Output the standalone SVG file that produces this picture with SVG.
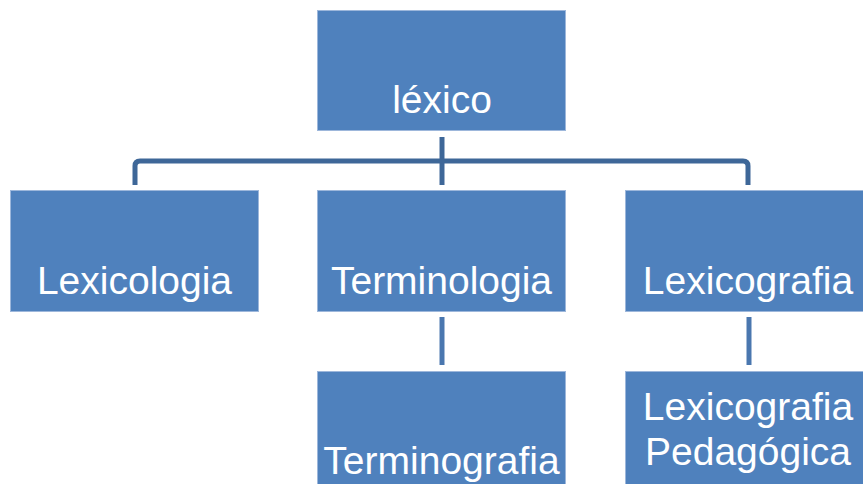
<svg xmlns="http://www.w3.org/2000/svg" width="863" height="484" viewBox="0 0 863 484">
<style>
.box{fill:#4F81BD;stroke:#9DB7DB;stroke-width:1}
.t{font-family:"Liberation Sans",Arial,sans-serif;font-size:39px;fill:#FFFFFF;text-anchor:middle}
.c1{fill:none;stroke:#3E6798;stroke-width:5}
.c2{fill:none;stroke:#4A77AF;stroke-width:5}
</style>
<rect width="863" height="484" fill="#FFFFFF"/>
<g id="connectors">
<path class="c1" d="M442 137 V185"/>
<path class="c1" d="M135 185 V166 Q135 161 140 161 H743 Q748 161 748 166 V185"/>
<path class="c2" d="M442 317 V365"/>
<path class="c2" d="M749 317 V365"/>
</g>
<g id="lexico"><rect class="box" x="317.5" y="10.5" width="248" height="120"/><text class="t" x="442" y="113">léxico</text></g>
<g id="lexicologia"><rect class="box" x="10.5" y="190.5" width="248" height="121"/><text class="t" x="134.5" y="294">Lexicologia</text></g>
<g id="terminologia"><rect class="box" x="317.5" y="190.5" width="248" height="121"/><text class="t" x="441.5" y="294">Terminologia</text></g>
<g id="lexicografia"><rect class="box" x="625.5" y="190.5" width="248" height="121"/><text class="t" x="748" y="294">Lexicografia</text></g>
<g id="terminografia"><rect class="box" x="317.5" y="371.5" width="248" height="121"/><text class="t" x="441.5" y="474">Terminografia</text></g>
<g id="lexicografia-pedagogica"><rect class="box" x="625.5" y="371.5" width="248" height="121"/><text class="t" x="748" y="420">Lexicografia</text><text class="t" x="748" y="465">Pedagógica</text></g>
</svg>
